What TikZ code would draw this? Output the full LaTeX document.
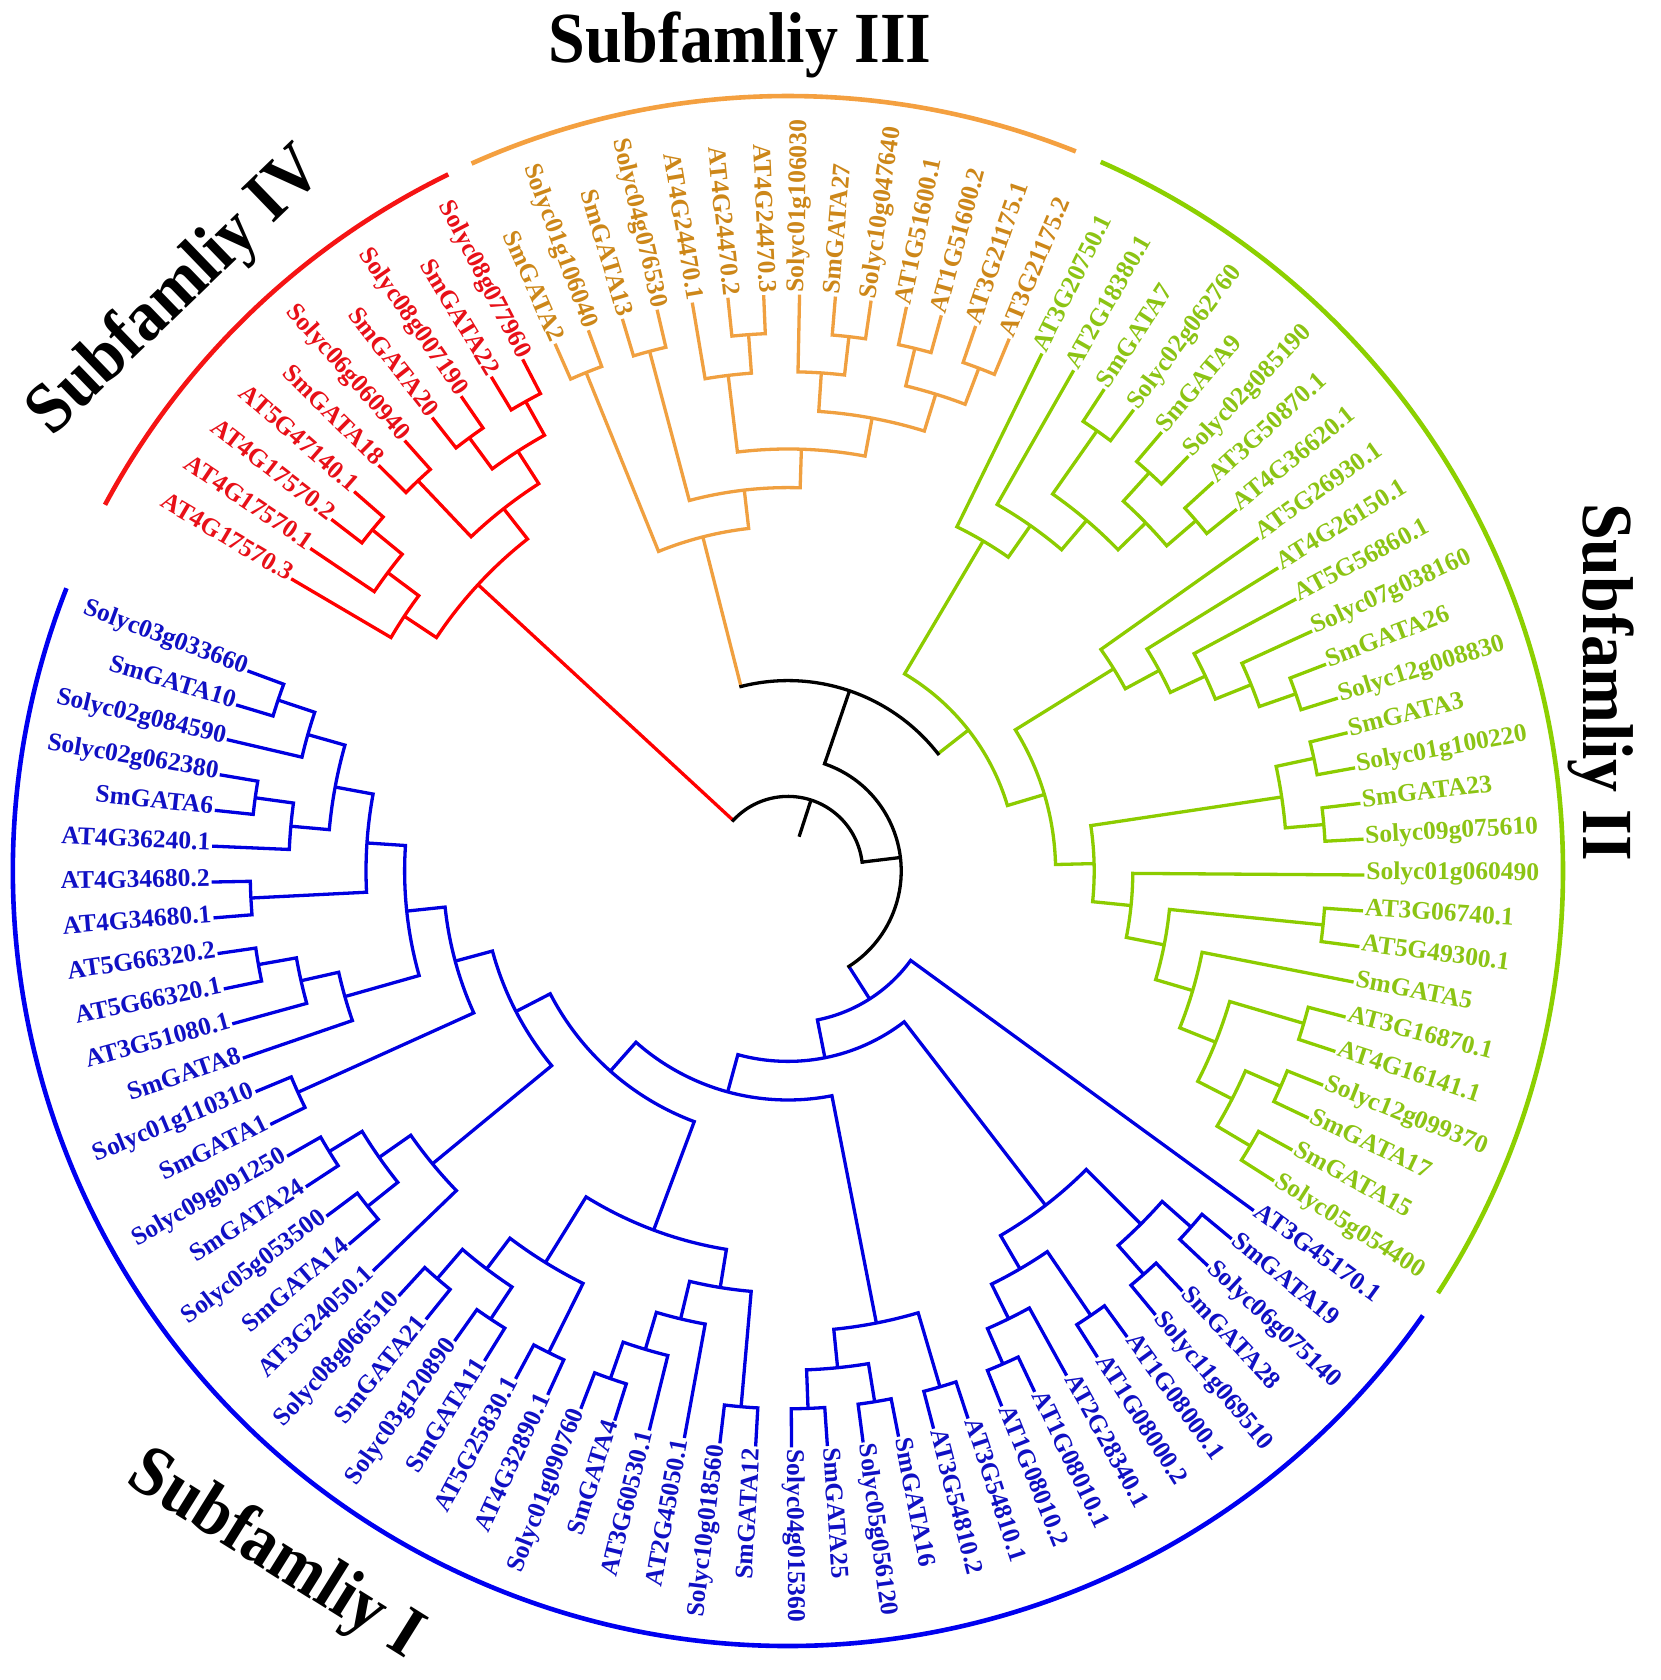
\documentclass[tikz,border=0pt]{standalone}
\usepackage{fontspec}
\setmainfont{Liberation Serif}
\definecolor{redL}{RGB}{255,0,0}
\definecolor{redT}{RGB}{232,16,24}
\definecolor{redA}{RGB}{245,20,20}
\definecolor{oraL}{RGB}{240,160,64}
\definecolor{oraT}{RGB}{205,135,25}
\definecolor{oraA}{RGB}{244,160,64}
\definecolor{grnL}{RGB}{140,204,0}
\definecolor{grnT}{RGB}{140,196,20}
\definecolor{grnA}{RGB}{140,208,0}
\definecolor{bluL}{RGB}{0,0,224}
\definecolor{bluT}{RGB}{16,16,196}
\definecolor{bluA}{RGB}{0,0,240}
\newcommand\TLeaf[4]{%
  \pgfmathsetmacro\Tqang{-0.4+3.57*(#2)}%
  \expandafter\xdef\csname TqA@#1\endcsname{\Tqang}%
  \expandafter\xdef\csname TqL@#1\endcsname{14}%
  \pgfmathsetmacro\Tqcos{cos(\Tqang)}%
  \ifdim\Tqcos pt<0pt\relax
    \pgfmathsetmacro\Tqrot{\Tqang+180}%
    \node[lab,text=#4,rotate=\Tqrot,anchor=east] (t-#1) at (\Tqang:576.4) {#3};%
  \else
    \node[lab,text=#4,rotate=\Tqang,anchor=west] (t-#1) at (\Tqang:576.4) {#3};%
  \fi}
\newcommand\TCalc[3]{%
  \edef\Tqca{\csname TqA@#2\endcsname}%
  \edef\Tqcb{\csname TqA@#3\endcsname}%
  \edef\Tqla{\csname TqL@#2\endcsname}%
  \edef\Tqlb{\csname TqL@#3\endcsname}%
  \pgfmathtruncatemacro\Tqlv{min(\Tqla,\Tqlb)-1}%
  \pgfmathsetmacro\Tqang{(\Tqca+\Tqcb)/2}%
  \pgfmathsetmacro\Tqrr{36+38.6*\Tqlv}%
  \pgfmathsetmacro\Tqra{36+38.6*\Tqla}%
  \pgfmathsetmacro\Tqrb{36+38.6*\Tqlb}%
  \expandafter\xdef\csname TqA@#1\endcsname{\Tqang}%
  \expandafter\xdef\csname TqL@#1\endcsname{\Tqlv}}
\newcommand\TClade[4]{\TCalc{#1}{#2}{#3}%
  \draw[br,#4] (\Tqca:\Tqra) -- (\Tqca:\Tqrr) arc[start angle=\Tqca,end angle=\Tqcb,radius=\Tqrr] -- (\Tqcb:\Tqrb);}
\newcommand\TCladeX[6]{\TCalc{#1}{#2}{#3}%
  \draw[br,#5] (\Tqca:\Tqrr) -- (\Tqca:\Tqra);
  \draw[br,#6] (\Tqcb:\Tqrr) -- (\Tqcb:\Tqrb);
  \draw[br,#4,line cap=rect] (\Tqca:\Tqrr) arc[start angle=\Tqca,end angle=\Tqcb,radius=\Tqrr];}
\newcommand\LfR[3]{\TLeaf{#1}{#2}{#3}{redT}}
\newcommand\LfO[3]{\TLeaf{#1}{#2}{#3}{oraT}}
\newcommand\LfG[3]{\TLeaf{#1}{#2}{#3}{grnT}}
\newcommand\LfB[3]{\TLeaf{#1}{#2}{#3}{bluT}}
\newcommand\CdR[3]{\TClade{#1}{#2}{#3}{redL}}
\newcommand\CdO[3]{\TClade{#1}{#2}{#3}{oraL}}
\newcommand\CdG[3]{\TClade{#1}{#2}{#3}{grnL}}
\newcommand\CdB[3]{\TClade{#1}{#2}{#3}{bluL}}
\begin{document}
\begin{tikzpicture}[x=0.5pt,y=0.5pt,
  br/.style={line width=1.65pt,line join=miter},
  lab/.style={font=\fontsize{12.75pt}{14pt}\selectfont\bfseries,inner sep=0.8pt,text height=0.4em,text depth=0pt},
  outer/.style={line width=2.3pt},
  ttl/.style={font=\fontsize{33pt}{36pt}\selectfont\bfseries,inner sep=0pt}]
\fill[white] (0,0) rectangle (1660,1680);
\useasboundingbox (0,0) rectangle (1660,1680);
% titles
\node[ttl,anchor=base] (tIII) at (740,1617) {\scalebox{1}[1.09]{Subfamliy III}};
\node[ttl,rotate=-90] (tII) at (1601,998) {\scalebox{1}[1.09]{Subfamliy II}};
\node[ttl,rotate=-32] (tI) at (275,124) {\scalebox{1}[1.09]{Subfamliy I}};
\node[ttl,rotate=44] (tIV) at (177,1387) {\scalebox{1}[1.09]{Subfamliy IV}};
\begin{scope}[shift={(788,809)}]
% outer arcs
\draw[outer,redA] (116:775) arc[start angle=116,end angle=151.8,radius=775];
\draw[outer,oraA] (68.2:775) arc[start angle=68.2,end angle=114.1,radius=775];
\draw[outer,grnA] (-33:775) arc[start angle=-33,end angle=66.2,radius=775];
\draw[outer,bluA] (158.6:775) arc[start angle=158.6,end angle=325,radius=775];
% red leaves
\LfR{Solyc08g077960}{33}{Solyc08g077960}
\LfR{SmGATA22}{34}{SmGATA22}
\LfR{Solyc08g007190}{35}{Solyc08g007190}
\LfR{SmGATA20}{36}{SmGATA20}
\LfR{Solyc06g060940}{37}{Solyc06g060940}
\LfR{SmGATA18}{38}{SmGATA18}
\LfR{AT5G47140-1}{39}{AT5G47140.1}
\LfR{AT4G17570-2}{40}{AT4G17570.2}
\LfR{AT4G17570-1}{41}{AT4G17570.1}
\LfR{AT4G17570-3}{42}{AT4G17570.3}
% orange leaves
\LfO{AT3G21175-2}{19}{AT3G21175.2}
\LfO{AT3G21175-1}{20}{AT3G21175.1}
\LfO{AT1G51600-2}{21}{AT1G51600.2}
\LfO{AT1G51600-1}{22}{AT1G51600.1}
\LfO{Solyc10g047640}{23}{Solyc10g047640}
\LfO{SmGATA27}{24}{SmGATA27}
\LfO{Solyc01g106030}{25}{Solyc01g106030}
\LfO{AT4G24470-3}{26}{AT4G24470.3}
\LfO{AT4G24470-2}{27}{AT4G24470.2}
\LfO{AT4G24470-1}{28}{AT4G24470.1}
\LfO{Solyc04g076530}{29}{Solyc04g076530}
\LfO{SmGATA13}{30}{SmGATA13}
\LfO{Solyc01g106040}{31}{Solyc01g106040}
\LfO{SmGATA2}{32}{SmGATA2}
% green leaves
\LfG{AT3G20750-1}{18}{AT3G20750.1}
\LfG{AT2G18380-1}{17}{AT2G18380.1}
\LfG{SmGATA7}{16}{SmGATA7}
\LfG{Solyc02g062760}{15}{Solyc02g062760}
\LfG{SmGATA9}{14}{SmGATA9}
\LfG{Solyc02g085190}{13}{Solyc02g085190}
\LfG{AT3G50870-1}{12}{AT3G50870.1}
\LfG{AT4G36620-1}{11}{AT4G36620.1}
\LfG{AT5G26930-1}{10}{AT5G26930.1}
\LfG{AT4G26150-1}{9}{AT4G26150.1}
\LfG{AT5G56860-1}{8}{AT5G56860.1}
\LfG{Solyc07g038160}{7}{Solyc07g038160}
\LfG{SmGATA26}{6}{SmGATA26}
\LfG{Solyc12g008830}{5}{Solyc12g008830}
\LfG{SmGATA3}{4}{SmGATA3}
\LfG{Solyc01g100220}{3}{Solyc01g100220}
\LfG{SmGATA23}{2}{SmGATA23}
\LfG{Solyc09g075610}{1}{Solyc09g075610}
\LfG{Solyc01g060490}{0}{Solyc01g060490}
\LfG{AT3G06740-1}{-1}{AT3G06740.1}
\LfG{AT5G49300-1}{-2}{AT5G49300.1}
\LfG{SmGATA5}{-3}{SmGATA5}
\LfG{AT3G16870-1}{-4}{AT3G16870.1}
\LfG{AT4G16141-1}{-5}{AT4G16141.1}
\LfG{Solyc12g099370}{-6}{Solyc12g099370}
\LfG{SmGATA17}{-7}{SmGATA17}
\LfG{SmGATA15}{-8}{SmGATA15}
\LfG{Solyc05g054400}{-9}{Solyc05g054400}
% blue leaves
\LfB{AT3G45170-1}{-10}{AT3G45170.1}
\LfB{SmGATA19}{-11}{SmGATA19}
\LfB{Solyc06g075140}{-12}{Solyc06g075140}
\LfB{SmGATA28}{-13}{SmGATA28}
\LfB{Solyc11g069510}{-14}{Solyc11g069510}
\LfB{AT1G08000-1}{-15}{AT1G08000.1}
\LfB{AT1G08000-2}{-16}{AT1G08000.2}
\LfB{AT2G28340-1}{-17}{AT2G28340.1}
\LfB{AT1G08010-1}{-18}{AT1G08010.1}
\LfB{AT1G08010-2}{-19}{AT1G08010.2}
\LfB{AT3G54810-1}{-20}{AT3G54810.1}
\LfB{AT3G54810-2}{-21}{AT3G54810.2}
\LfB{SmGATA16}{-22}{SmGATA16}
\LfB{Solyc05g056120}{-23}{Solyc05g056120}
\LfB{SmGATA25}{-24}{SmGATA25}
\LfB{Solyc04g015360}{-25}{Solyc04g015360}
\LfB{SmGATA12}{-26}{SmGATA12}
\LfB{Solyc10g018560}{-27}{Solyc10g018560}
\LfB{AT2G45050-1}{-28}{AT2G45050.1}
\LfB{AT3G60530-1}{-29}{AT3G60530.1}
\LfB{SmGATA4}{-30}{SmGATA4}
\LfB{Solyc01g090760}{-31}{Solyc01g090760}
\LfB{AT4G32890-1}{-32}{AT4G32890.1}
\LfB{AT5G25830-1}{-33}{AT5G25830.1}
\LfB{SmGATA11}{-34}{SmGATA11}
\LfB{Solyc03g120890}{-35}{Solyc03g120890}
\LfB{SmGATA21}{-36}{SmGATA21}
\LfB{Solyc08g066510}{-37}{Solyc08g066510}
\LfB{AT3G24050-1}{-38}{AT3G24050.1}
\LfB{SmGATA14}{-39}{SmGATA14}
\LfB{Solyc05g053500}{-40}{Solyc05g053500}
\LfB{SmGATA24}{-41}{SmGATA24}
\LfB{Solyc09g091250}{-42}{Solyc09g091250}
\LfB{SmGATA1}{-43}{SmGATA1}
\LfB{Solyc01g110310}{-44}{Solyc01g110310}
\LfB{SmGATA8}{-45}{SmGATA8}
\LfB{AT3G51080-1}{-46}{AT3G51080.1}
\LfB{AT5G66320-1}{-47}{AT5G66320.1}
\LfB{AT5G66320-2}{-48}{AT5G66320.2}
\LfB{AT4G34680-1}{-49}{AT4G34680.1}
\LfB{AT4G34680-2}{-50}{AT4G34680.2}
\LfB{AT4G36240-1}{-51}{AT4G36240.1}
\LfB{SmGATA6}{-52}{SmGATA6}
\LfB{Solyc02g062380}{-53}{Solyc02g062380}
\LfB{Solyc02g084590}{-54}{Solyc02g084590}
\LfB{SmGATA10}{-55}{SmGATA10}
\LfB{Solyc03g033660}{-56}{Solyc03g033660}
% red clades
\CdR{rA}{SmGATA22}{Solyc08g077960}
\CdR{rB}{SmGATA20}{Solyc08g007190}
\CdR{rAB}{rA}{rB}
\CdR{rC}{SmGATA18}{Solyc06g060940}
\CdR{rD}{rC}{rAB}
\CdR{rE}{AT4G17570-2}{AT5G47140-1}
\CdR{rF}{AT4G17570-1}{rE}
\CdR{rG}{AT4G17570-3}{rF}
\CdR{rR}{rG}{rD}
% orange clades
\CdO{o1}{SmGATA2}{Solyc01g106040}
\CdO{o2}{SmGATA13}{Solyc04g076530}
\CdO{o3}{AT4G24470-2}{AT4G24470-3}
\CdO{o4}{AT4G24470-1}{o3}
\CdO{o5}{SmGATA27}{Solyc10g047640}
\CdO{o6}{Solyc01g106030}{o5}
\CdO{o7}{AT1G51600-1}{AT1G51600-2}
\CdO{o8}{AT3G21175-1}{AT3G21175-2}
\CdO{o9}{o7}{o8}
\CdO{o10}{o6}{o9}
\CdO{o11}{o4}{o10}
\CdO{o12}{o2}{o11}
\CdO{o13}{o1}{o12}
% green clades
\CdG{g1}{SmGATA7}{Solyc02g062760}
\CdG{g2}{SmGATA9}{Solyc02g085190}
\CdG{g3}{AT3G50870-1}{AT4G36620-1}
\CdG{g4}{g2}{g3}
\CdG{g5}{g1}{g4}
\CdG{g6}{AT2G18380-1}{g5}
\CdG{g7}{AT3G20750-1}{g6}
\CdG{g8}{SmGATA26}{Solyc12g008830}
\CdG{g9}{Solyc07g038160}{g8}
\CdG{g10}{AT5G56860-1}{g9}
\CdG{g11}{AT4G26150-1}{g10}
\CdG{g12}{AT5G26930-1}{g11}
\CdG{g13}{SmGATA3}{Solyc01g100220}
\CdG{g14}{SmGATA23}{Solyc09g075610}
\CdG{g15}{g13}{g14}
\CdG{g19}{AT3G06740-1}{AT5G49300-1}
\CdG{g22}{AT3G16870-1}{AT4G16141-1}
\CdG{g24}{Solyc12g099370}{SmGATA17}
\CdG{g25}{SmGATA15}{Solyc05g054400}
\CdG{g23}{g24}{g25}
\CdG{g21}{g22}{g23}
\CdG{g20}{SmGATA5}{g21}
\CdG{g18}{g19}{g20}
\CdG{g17}{Solyc01g060490}{g18}
\CdG{g16}{g15}{g17}
\CdG{gB}{g12}{g16}
\CdG{gR}{g7}{gB}
% blue clades
\CdB{b1}{SmGATA19}{Solyc06g075140}
\CdB{b2}{SmGATA28}{Solyc11g069510}
\CdB{b3}{b1}{b2}
\CdB{b10}{AT1G08000-1}{AT1G08000-2}
\CdB{b12}{AT1G08010-1}{AT1G08010-2}
\CdB{b11}{AT2G28340-1}{b12}
\CdB{b8}{b10}{b11}
\CdB{b7}{b3}{b8}
\CdB{b21}{AT3G54810-1}{AT3G54810-2}
\CdB{b19}{SmGATA16}{Solyc05g056120}
\CdB{b18}{SmGATA25}{Solyc04g015360}
\CdB{b20}{b19}{b18}
\CdB{b22}{b21}{b20}
\CdB{b30}{SmGATA12}{Solyc10g018560}
\CdB{b33}{SmGATA4}{Solyc01g090760}
\CdB{b32}{AT3G60530-1}{b33}
\CdB{b31}{AT2G45050-1}{b32}
\CdB{b29}{b30}{b31}
\CdB{b35}{AT4G32890-1}{AT5G25830-1}
\CdB{b37}{SmGATA11}{Solyc03g120890}
\CdB{b38}{SmGATA21}{Solyc08g066510}
\CdB{b36}{b37}{b38}
\CdB{b34}{b35}{b36}
\CdB{b25}{b29}{b34}
\CdB{bl15}{SmGATA14}{Solyc05g053500}
\CdB{bl14}{SmGATA24}{Solyc09g091250}
\CdB{bl16}{bl15}{bl14}
\CdB{bl17}{AT3G24050-1}{bl16}
\CdB{bl12}{SmGATA1}{Solyc01g110310}
\CdB{bl8}{AT5G66320-1}{AT5G66320-2}
\CdB{bl9}{AT3G51080-1}{bl8}
\CdB{bl10}{SmGATA8}{bl9}
\CdB{bl6}{AT4G34680-1}{AT4G34680-2}
\CdB{bl3}{SmGATA6}{Solyc02g062380}
\CdB{bl4}{AT4G36240-1}{bl3}
\CdB{bl1}{SmGATA10}{Solyc03g033660}
\CdB{bl2}{Solyc02g084590}{bl1}
\CdB{bl5}{bl4}{bl2}
\CdB{bl7}{bl6}{bl5}
\CdB{bl11}{bl10}{bl7}
\CdB{bl13}{bl12}{bl11}
\CdB{b26}{bl17}{bl13}
\CdB{b24}{b25}{b26}
\CdB{b23}{b22}{b24}
\CdB{b9}{b7}{b23}
\CdB{bR}{AT3G45170-1}{b9}
% backbone
\TCladeX{n2}{o13}{gR}{black}{oraL}{grnL}
\TCladeX{n1}{n2}{bR}{black}{black}{bluL}
\TCladeX{n0}{rR}{n1}{black}{redL}{black}
\edef\Tqroot{\csname TqA@n0\endcsname}
\draw[br,black] (\Tqroot:36) -- (\Tqroot:74.6);
\end{scope}
\end{tikzpicture}
\end{document}
